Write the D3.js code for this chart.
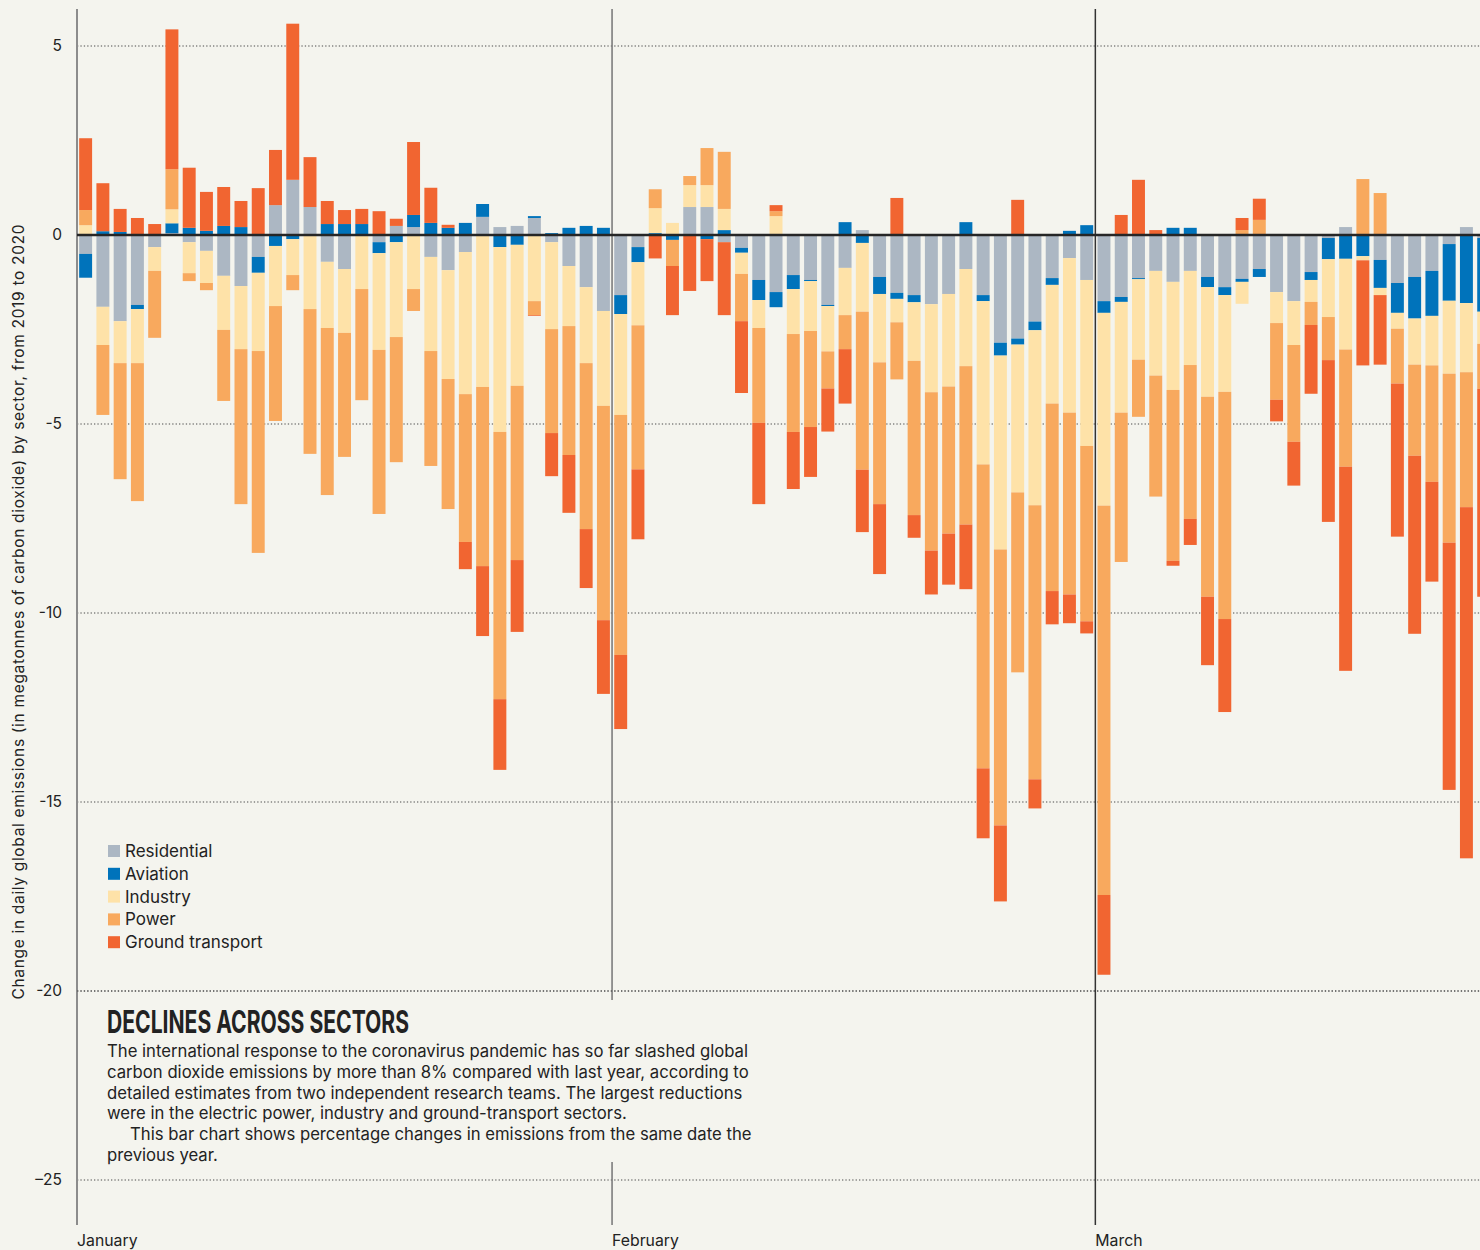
<!DOCTYPE html>
<html><head><meta charset="utf-8">
<script src="https://cdn.jsdelivr.net/npm/d3@7"></script>
<style>
html,body{margin:0;padding:0;background:#f4f4ee;}
svg{display:block;overflow:hidden;}
text{font-family:Inter,"Noto Sans",sans-serif;fill:#222;}
</style></head><body>
<svg id="chart" width="1480" height="1250"></svg>
<script>
// ---------- data ----------
const monthNames = ["January", "February", "March"];
const monthDays = [31, 28, 23];
const days = [];
monthNames.forEach((m, mi) => { for (let d = 1; d <= monthDays[mi]; d++) days.push(m.slice(0, 3) + " " + d); });

const sectors = ["Residential", "Aviation", "Industry", "Power", "Ground transport"];
const sectorColors = ["#acb7c3", "#0073bb", "#fee2a8", "#f8a95e", "#f16531"];

const residential = [-0.50,-1.90,-2.28,-1.85,-0.32,0.05,-0.19,-0.42,-1.08,-1.35,-0.58,0.79,1.46,0.74,-0.71,-0.90,0,-0.19,0.24,0.21,-0.58,-0.93,-0.45,0.48,0.21,0.24,0.45,-0.19,-0.82,-1.38,-2.01,
  -1.59,-0.32,0,0,0.74,0.74,-0.19,-0.34,-1.19,-1.51,-1.06,-1.19,-1.85,-0.87,0.13,-1.11,-1.53,-1.59,-1.83,-1.56,-0.90,-1.59,-2.85,-2.74,-2.29,-1.14,-0.61,-1.19,
  -1.75,-1.64,-1.14,-0.95,-1.24,-0.95,-1.11,-1.38,-1.16,-0.90,-1.51,-1.75,-0.98,-0.08,0.21,0,-0.66,-1.27,-1.11,-0.95,-0.24,0.21,-0.08];
const aviation = [-0.63,0.10,0.08,-0.11,0,0.26,0.19,0.11,0.24,0.21,-0.42,-0.29,-0.11,0,0.29,0.29,0.29,-0.29,-0.19,0.32,0.32,0.19,0.32,0.34,-0.32,-0.26,0.05,0.05,0.19,0.24,0.19,
  -0.50,-0.40,0.05,-0.13,0,-0.11,0.13,-0.13,-0.53,-0.40,-0.37,-0.03,-0.03,0.34,-0.21,-0.45,-0.16,-0.19,0,0,0.34,-0.16,-0.34,-0.16,-0.23,-0.18,0.11,0.26,
  -0.31,-0.13,-0.03,0,0.19,0.19,-0.27,-0.21,-0.08,-0.21,0,0,-0.21,-0.56,-0.63,-0.56,-0.74,-0.79,-1.10,-1.19,-1.50,-1.80,-1.95];
const industry = [0.26,-1.01,-1.11,-1.43,-0.63,0.37,-0.82,-0.85,-1.43,-1.67,-2.07,-1.59,-0.95,-1.96,-1.75,-1.69,-1.43,-2.56,-2.51,-1.43,-2.49,-2.88,-3.76,-4.02,-4.89,-3.73,-1.75,-2.30,-1.59,-2.01,-2.51,
  -2.67,-1.67,0.66,0.32,0.58,0.58,0.56,-0.56,-0.74,0.50,-1.19,-1.32,-1.20,-1.25,-1.82,-1.81,-0.62,-1.55,-2.33,-2.45,-2.57,-4.32,-5.13,-3.91,-4.63,-3.14,-4.09,-4.39,
  -5.10,-2.93,-2.13,-2.77,-2.86,-2.49,-2.90,-2.56,-0.58,0,-0.82,-1.16,-0.58,-1.53,-2.40,-0.11,-0.19,-0.42,-1.22,-1.31,-1.93,-1.83,-0.85];
const power = [0.40,-1.85,-3.07,-3.65,-1.77,1.06,-0.21,-0.19,-1.88,-4.10,-5.34,-3.04,-0.40,-3.83,-4.42,-3.28,-2.94,-4.34,-3.31,-0.58,-3.04,-3.44,-3.91,-4.74,-7.07,-4.61,-0.37,-2.75,-3.41,-4.39,-5.67,
  -6.35,-3.81,0.50,-0.69,0.24,0.98,1.51,-1.25,-2.51,0.13,-2.59,-2.54,-0.98,-0.90,-4.18,-3.75,-1.51,-4.08,-4.19,-3.89,-4.19,-8.04,-7.30,-4.76,-7.25,-4.96,-4.81,-4.64,
  -10.30,-3.95,-1.51,-3.20,-4.52,-4.07,-5.29,-6.01,0.13,0.40,-2.03,-2.56,-0.61,-1.14,-3.10,1.48,1.11,-1.45,-2.41,-3.08,-4.47,-3.57,-1.19];
const groundTransport = [1.90,1.27,0.61,0.45,0.29,3.70,1.59,1.03,1.03,0.69,1.24,1.46,4.13,1.32,0.61,0.37,0.40,0.63,0.19,1.93,0.93,0.08,-0.72,-1.85,-1.87,-1.90,-0.02,-1.14,-1.53,-1.56,-1.95,
  -1.96,-1.85,-0.62,-1.30,-1.48,-1.11,-1.93,-1.90,-2.15,0.16,-1.51,-1.32,-1.14,-1.44,-1.65,-1.85,0.98,-0.60,-1.16,-1.35,-1.71,-1.85,-2.01,0.93,-0.77,-0.88,-0.76,-0.32,
  -2.11,0.53,1.46,0.13,-0.13,-0.69,-1.81,-2.46,0.32,0.56,-0.57,-1.16,-1.82,-4.28,-5.40,-2.78,-1.84,-4.05,-4.71,-2.64,-6.54,-9.29,-5.50];

const yTickValues = [5, 0, -5, -10, -15, -20, -25];
const yTickLabels = ["5", "0", "-5", "-10", "-15", "-20", "\u201325"];

const yTitle = "Change in daily global emissions (in megatonnes of carbon dioxide) by sector, from 2019 to 2020";
const chartTitle = "DECLINES ACROSS SECTORS";
const bodyLines = [
  "The international response to the coronavirus pandemic has so far slashed global",
  "carbon dioxide emissions by more than 8% compared with last year, according to",
  "detailed estimates from two independent research teams. The largest reductions",
  "were in the electric power, industry and ground-transport sectors.",
  "This bar chart shows percentage changes in emissions from the same date the",
  "previous year."
];

// ---------- build ----------
const series = [residential, aviation, industry, power, groundTransport];
const table = days.map((d, i) => {
  const o = { day: d };
  sectors.forEach((s, si) => o[s] = series[si][i]);
  return o;
});

const svg = d3.select("#chart");
const W = 1480;
const step = 17.26;
const x0 = 77;
const x = d3.scaleBand().domain(days).range([x0, x0 + days.length * step]).paddingInner(0.25).paddingOuter(0.125);
const y = d3.scaleLinear().domain([-25, 5]).range([1180, 46]);
const color = d3.scaleOrdinal().domain(sectors).range(sectorColors);

svg.append("rect").attr("width", W).attr("height", 1250).attr("fill", "#f4f4ee");

// gridlines (dotted)
svg.append("g").selectAll("line").data(yTickValues.filter(v => v !== 0)).join("line")
  .attr("x1", x0).attr("x2", W).attr("y1", d => y(d)).attr("y2", d => y(d))
  .attr("stroke", "#4a4a4a").attr("stroke-width", 1.2).attr("stroke-dasharray", "1.3,2.1");

// bars
const stacked = d3.stack().keys(sectors).offset(d3.stackOffsetDiverging)(table);
svg.append("g").selectAll("g").data(stacked).join("g")
  .attr("fill", d => color(d.key))
  .selectAll("rect").data(d => d).join("rect")
  .attr("x", d => x(d.data.day))
  .attr("width", x.bandwidth())
  .attr("y", d => y(Math.max(d[0], d[1])))
  .attr("height", d => Math.abs(y(d[0]) - y(d[1])));

// month lines
const monthStarts = [0, 31, 59];
const lineColors = ["#8c8c8c", "#7d7d7d", "#333333"];
const lineWidths = [2, 1.6, 1.5];
monthStarts.forEach((idx, i) => {
  const mx = x(days[idx]) - x.step() * x.paddingOuter();
  svg.append("line").attr("x1", mx).attr("x2", mx).attr("y1", 9).attr("y2", 1225)
    .attr("stroke", lineColors[i]).attr("stroke-width", lineWidths[i]);
  svg.append("text").attr("x", mx).attr("y", 1246).attr("font-size", 15.8).text(monthNames[i]);
});

// zero line
svg.append("line").attr("x1", x0).attr("x2", W).attr("y1", y(0)).attr("y2", y(0))
  .attr("stroke", "#262626").attr("stroke-width", 2.6);

// y axis
const yAxis = d3.axisLeft(y).tickValues(yTickValues).tickSize(0).tickPadding(0)
  .tickFormat((d, i) => yTickLabels[i]);
const gy = svg.append("g").attr("transform", "translate(62,0)").call(yAxis);
gy.select(".domain").remove();
gy.selectAll("text").attr("font-size", 15.5).attr("font-family", "Inter, sans-serif").attr("fill", "#333");

svg.append("text").attr("transform", "translate(24,612) rotate(-90)").attr("text-anchor", "middle")
  .attr("font-size", 15.5).attr("fill", "#333")
  .attr("textLength", 775).attr("lengthAdjust", "spacing").text(yTitle);

// legend
const lg = svg.append("g").attr("transform", "translate(108,845)");
sectors.forEach((s, i) => {
  lg.append("rect").attr("x", 0).attr("y", i * 22.8).attr("width", 12).attr("height", 12).attr("fill", color(s));
  lg.append("text").attr("x", 17).attr("y", i * 22.8 + 12).attr("font-size", 17).text(s);
});

// text block
svg.append("rect").attr("x", 100).attr("y", 1000).attr("width", 660).attr("height", 162).attr("fill", "#f4f4ee");
svg.append("line").attr("x1", x0).attr("x2", W).attr("y1", y(-20)).attr("y2", y(-20))
  .attr("stroke", "#4a4a4a").attr("stroke-width", 1.2).attr("stroke-dasharray", "1.3,2.1");
svg.append("text").attr("x", 107).attr("y", 1033).attr("font-family", "DejaVu Sans, sans-serif")
  .attr("font-weight", "bold").attr("font-size", 31).attr("fill", "#1a1a1a")
  .attr("textLength", 302).attr("lengthAdjust", "spacingAndGlyphs").text(chartTitle);
bodyLines.forEach((t, i) => {
  svg.append("text").attr("x", i === 4 ? 130 : 107).attr("y", 1057 + i * 20.8)
    .attr("font-size", 16.7).attr("fill", "#222").text(t);
});
</script>
</body></html>
